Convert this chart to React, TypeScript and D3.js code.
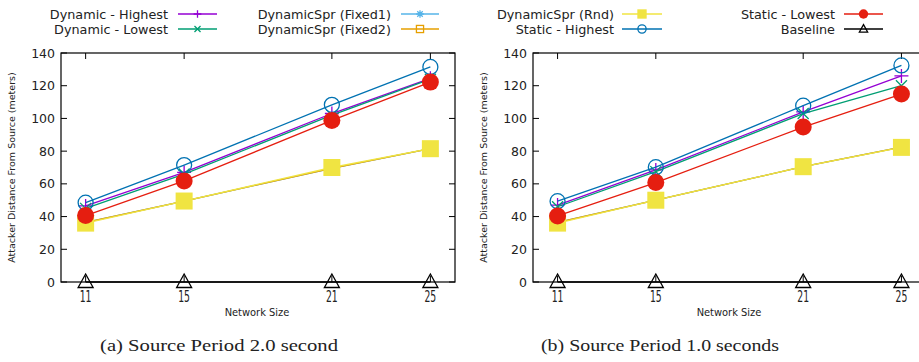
import React from "react";
import * as d3 from "d3";

// network sizes on the x axis
const networkSizes = [11, 15, 21, 25];
const yTicks = [0, 20, 40, 60, 80, 100, 120, 140];

// (a) source period 2.0 second
const dynHighA = [46.5, 67, 103, 124.5];
const dynLowA = [45, 66, 102, 124];
const fixed1A = [36.5, 49.5, 69.5, 81.5];
const fixed2A = [36.5, 49.5, 69.5, 81.5];
const rndA = [36, 49.5, 70, 81.5];
const staticHighA = [48.5, 71.5, 108.3, 131.5];
const staticLowA = [40.6, 61.8, 98.8, 122.2];
const baselineA = [0, 0, 0, 0];

// (b) source period 1.0 seconds
const dynHighB = [47, 68.5, 104, 126];
const dynLowB = [46, 67.5, 103, 120];
const fixed1B = [36.5, 50, 70.5, 82.5];
const fixed2B = [36.5, 50, 70.5, 82.5];
const rndB = [36, 50, 70.5, 82.3];
const staticHighB = [49.4, 70.2, 107.8, 132.4];
const staticLowB = [40.4, 60.8, 94.7, 114.9];
const baselineB = [0, 0, 0, 0];

const seriesStyle = [
  { label: "Dynamic - Highest", color: "#9400d3", marker: "plus" },
  { label: "Dynamic - Lowest", color: "#009e73", marker: "cross" },
  { label: "DynamicSpr (Fixed1)", color: "#56b4e9", marker: "star" },
  { label: "DynamicSpr (Fixed2)", color: "#e69f00", marker: "osquare" },
  { label: "DynamicSpr (Rnd)", color: "#f0e442", marker: "fsquare" },
  { label: "Static - Highest", color: "#0072b2", marker: "ocircle" },
  { label: "Static - Lowest", color: "#e51e10", marker: "fcircle" },
  { label: "Baseline", color: "#000000", marker: "triangle" },
];

const panelA = [dynHighA, dynLowA, fixed1A, fixed2A, rndA, staticHighA, staticLowA, baselineA];
const panelB = [dynHighB, dynLowB, fixed1B, fixed2B, rndB, staticHighB, staticLowB, baselineB];

const SANS = "'DejaVu Sans', sans-serif";

function Marker({ type, x, y, color, k = 1 }: any) {
  const t = `translate(${x},${y}) scale(${k})`;
  const sw = 1.3 / k;
  switch (type) {
    case "plus":
      return <path transform={t} d="M-7,0H7M0,-7V7" stroke={color} strokeWidth={sw} fill="none" />;
    case "cross":
      return <path transform={t} d="M-5.5,-5.5L5.5,5.5M-5.5,5.5L5.5,-5.5" stroke={color} strokeWidth={sw} fill="none" />;
    case "star":
      return <path transform={t} d="M-7,0H7M0,-7V7M-5,-5L5,5M-5,5L5,-5" stroke={color} strokeWidth={sw} fill="none" />;
    case "osquare":
      return <rect transform={t} x={-6.5} y={-6.5} width={13} height={13} stroke={color} strokeWidth={sw} fill="none" />;
    case "fsquare":
      return <rect transform={t} x={-8.5} y={-8.5} width={17} height={17} fill={color} />;
    case "ocircle":
      return <circle transform={t} r={7.5} stroke={color} strokeWidth={sw} fill="none" />;
    case "fcircle":
      return <circle transform={t} r={8.5} fill={color} />;
    default:
      return <path transform={t} d="M0,-8L7.5,5.5L-7.5,5.5Z" stroke={color} strokeWidth={sw} fill="none" />;
  }
}

function Panel({ left, right, values, caption, captionX }: any) {
  const x = d3.scaleLinear().domain([10, 26]).range([left, right]);
  const y = d3.scaleLinear().domain([0, 140]).range([282, 53]);
  const [x0, x1] = x.range();
  const [yb, yt] = y.range();
  const line = d3
    .line<number>()
    .x((_, i) => x(networkSizes[i]))
    .y((d) => y(d));
  return (
    <g>
      {yTicks.map((t) => (
        <g key={t}>
          <line x1={x0} x2={x0 + 6} y1={y(t)} y2={y(t)} stroke="#000" />
          <line x1={x1} x2={x1 - 6} y1={y(t)} y2={y(t)} stroke="#000" />
          <text x={x0 - 6} y={y(t) + 4.5} textAnchor="end" fontSize={12.5} fontFamily={SANS} fill="#222">
            {t}
          </text>
        </g>
      ))}
      {networkSizes.map((n) => (
        <g key={n}>
          <line x1={x(n)} x2={x(n)} y1={yb} y2={yb - 6} stroke="#000" />
          <line x1={x(n)} x2={x(n)} y1={yt} y2={yt + 6} stroke="#000" />
          <text
            transform={`translate(${x(n)},302) scale(0.62,1)`}
            textAnchor="middle"
            fontSize={15}
            fontFamily={SANS}
            fill="#222"
          >
            {n}
          </text>
        </g>
      ))}
      <rect x={x0} y={yt} width={x1 - x0} height={yb - yt} fill="none" stroke="#000" strokeWidth={1.2} />
      {values.map((vals: number[], si: number) => (
        <g key={si}>
          <path d={line(vals) || ""} fill="none" stroke={seriesStyle[si].color} strokeWidth={1.3} />
          {vals.map((v, i) => (
            <Marker key={i} type={seriesStyle[si].marker} x={x(networkSizes[i])} y={y(v)} color={seriesStyle[si].color} />
          ))}
        </g>
      ))}
      <text
        transform={`translate(${left - 46},${(yb + yt) / 2}) rotate(-90)`}
        textAnchor="middle"
        fontSize={9.5}
        fontFamily={SANS}
        fill="#222"
      >
        Attacker Distance From Source (meters)
      </text>
      <text
        transform={`translate(${left + 196},316) scale(0.9,1)`}
        textAnchor="middle"
        fontSize={11}
        fontFamily={SANS}
        fill="#222"
      >
        Network Size
      </text>
      <text
        x={captionX}
        y={351}
        textAnchor="middle"
        fontSize={16}
        fontFamily="'Liberation Serif', serif"
        textLength={238}
        lengthAdjust="spacingAndGlyphs"
        fill="#222"
      >
        {caption}
      </text>
    </g>
  );
}

function LegendItem({ s, textRight, lineX1, lineX2, y }: any) {
  return (
    <g>
      <text x={textRight} y={y + 4.5} textAnchor="end" fontSize={12.8} fontFamily={SANS} fill="#222">
        {s.label}
      </text>
      <line x1={lineX1} x2={lineX2} y1={y} y2={y} stroke={s.color} strokeWidth={1.3} />
      <Marker type={s.marker} x={(lineX1 + lineX2) / 2} y={y} color={s.color} k={0.55} />
    </g>
  );
}

export default function App() {
  const legendSlots = [
    { textRight: 168, lineX1: 178, lineX2: 217, y: 14 },
    { textRight: 168, lineX1: 178, lineX2: 217, y: 29 },
    { textRight: 391, lineX1: 401, lineX2: 439, y: 14 },
    { textRight: 391, lineX1: 401, lineX2: 439, y: 29 },
    { textRight: 614, lineX1: 622, lineX2: 662, y: 14 },
    { textRight: 614, lineX1: 622, lineX2: 662, y: 29 },
    { textRight: 835, lineX1: 844, lineX2: 883, y: 14 },
    { textRight: 835, lineX1: 844, lineX2: 883, y: 29 },
  ];
  return (
    <svg
      width={919}
      height={362}
      style={{ position: "absolute", left: 0, top: 0, background: "#fff" }}
    >
      <rect width={919} height={362} fill="#fff" />
      <Panel left={61} right={455} values={panelA} caption="(a) Source Period 2.0 second" captionX={219} />
      <Panel left={533} right={926} values={panelB} caption="(b) Source Period 1.0 seconds" captionX={660} />
      {seriesStyle.map((s, i) => (
        <LegendItem key={s.label} s={s} {...legendSlots[i]} />
      ))}
    </svg>
  );
}
